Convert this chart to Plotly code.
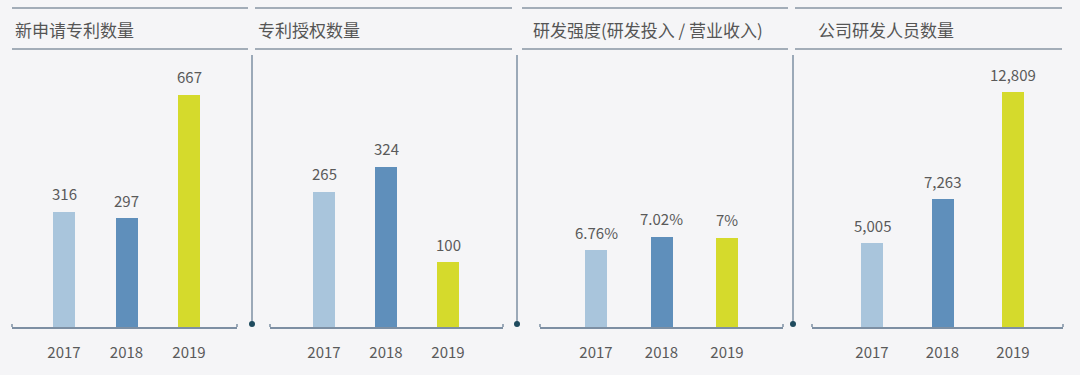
import plotly.graph_objects as go

W, H = 1080, 375
years = ["2017", "2018", "2019"]
titles = ["新申请专利数量", "专利授权数量", "研发强度(研发投入 / 营业收入)", "公司研发人员数量"]
vals_apply = [316, 297, 667]
vals_grant = [265, 324, 100]
vals_intensity = [6.76, 7.02, 7.0]
vals_staff = [5005, 7263, 12809]
labels_apply = ["316", "297", "667"]
labels_grant = ["265", "324", "100"]
labels_intensity = ["6.76%", "7.02%", "7%"]
labels_staff = ["5,005", "7,263", "12,809"]

series = [vals_apply, vals_grant, vals_intensity, vals_staff]
labels = [labels_apply, labels_grant, labels_intensity, labels_staff]
colors = ["#a9c5dc", "#5f8fbb", "#d5da2c"]

# layout (pixels)
axis_px = [(12, 237), (270, 503), (540, 783), (812, 1063)]
bar_px = [(64, 62.5), (324, 62), (596, 65.5), (872, 70.5)]  # first bar center, spacing
yranges = [[-30, 786], [-51, 585], [5.247, 10.60], [658, 14744]]
title_line_px = [(12, 248), (255, 512), (522, 788), (795, 1062)]
title_x_px = [13, 256, 531, 816]
divider_px = [252, 517, 793]

def px(x):
    return x / W

def py(y):
    return 1 - y / H

fig = go.Figure()
layout = {}
annotations = []
for i in range(4):
    c0, sp = bar_px[i]
    a0, a1 = axis_px[i]
    lo = yranges[i][0]
    xr = [(a0 - c0) / sp, (a1 - c0) / sp]
    xname = "x" if i == 0 else f"x{i+1}"
    yname = "y" if i == 0 else f"y{i+1}"
    fig.add_trace(go.Bar(
        x=[0, 1, 2], y=[v - lo for v in series[i]], base=lo,
        marker=dict(color=colors, line=dict(width=0)),
        width=22 / sp, xaxis=xname, yaxis=yname, showlegend=False, hoverinfo="skip"))
    for k in range(3):
        annotations.append(dict(text=labels[i][k], xref=xname, yref=yname, x=k, y=series[i][k],
                                yshift=18, xanchor="center", yanchor="middle", showarrow=False,
                                font=dict(size=15, color="#5a5a5a", family="Noto Sans CJK SC")))
    layout["xaxis" if i == 0 else f"xaxis{i+1}"] = dict(
        domain=[px(a0), px(a1)], range=xr, anchor=yname,
        showgrid=False, zeroline=False, showline=True, linecolor="#7d8fa3", linewidth=1.5,
        tickvals=[0, 1, 2], ticktext=years, ticks="", ticklabelstandoff=11,
        tickfont=dict(size=15, color="#5a5a5a", family="Noto Sans CJK SC"), fixedrange=True)
    layout["yaxis" if i == 0 else f"yaxis{i+1}"] = dict(
        domain=[py(327), py(55)], range=yranges[i], anchor=xname,
        visible=False, showgrid=False, zeroline=False, fixedrange=True)

shapes = []
for i in range(4):
    l0, l1 = title_line_px[i]
    for yy in (8, 49):
        shapes.append(dict(type="line", xref="paper", yref="paper", x0=px(l0), x1=px(l1),
                           y0=py(yy), y1=py(yy), line=dict(color="#a3adb8", width=2)))
    annotations.append(dict(text=titles[i], xref="paper", yref="paper", x=px(title_x_px[i]),
                            y=py(30), xanchor="left", yanchor="middle", showarrow=False,
                            font=dict(size=17, color="#555555", family="Noto Sans CJK SC")))
    a0, a1 = axis_px[i]
    for xx in (a0, a1):
        shapes.append(dict(type="line", xref="paper", yref="paper", x0=px(xx), x1=px(xx),
                           y0=py(327), y1=py(324), line=dict(color="#7d8fa3", width=1.5)))
for xx in divider_px:
    shapes.append(dict(type="line", xref="paper", yref="paper", x0=px(xx), x1=px(xx),
                       y0=py(324), y1=py(55), line=dict(color="#7d8fa3", width=1.5)))
    shapes.append(dict(type="circle", xref="paper", yref="paper", x0=px(xx - 3), x1=px(xx + 3),
                       y0=py(327), y1=py(321), fillcolor="#1f4b5e", line=dict(width=0)))

fig.update_layout(
    width=W, height=H, margin=dict(l=0, r=0, t=0, b=0),
    paper_bgcolor="#f5f5f7", plot_bgcolor="#f5f5f7",
    shapes=shapes, annotations=annotations, bargap=0, **layout)

fig.write_html("out.html", config={"displayModeBar": False},
               post_script="document.body.style.margin='0';document.body.style.background='#f5f5f7';")
